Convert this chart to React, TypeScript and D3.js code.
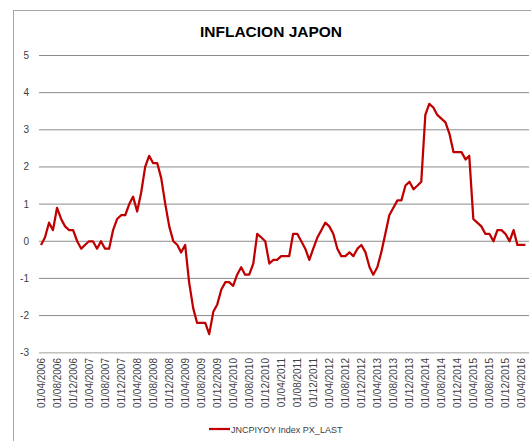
import React from "react";
import * as d3 from "d3";

// monthly CPI YoY, starting April 2006
const firstMonth = new Date(Date.UTC(2006, 3, 1));
const cpiYoY = [
  -0.1, 0.1, 0.5, 0.3, 0.9, 0.6, 0.4, 0.3, 0.3,
  0.0, -0.2, -0.1, 0.0, 0.0, -0.2, 0.0, -0.2, -0.2, 0.3, 0.6, 0.7,
  0.7, 1.0, 1.2, 0.8, 1.3, 2.0, 2.3, 2.1, 2.1, 1.7, 1.0, 0.4,
  0.0, -0.1, -0.3, -0.1, -1.1, -1.8, -2.2, -2.2, -2.2, -2.5, -1.9, -1.7,
  -1.3, -1.1, -1.1, -1.2, -0.9, -0.7, -0.9, -0.9, -0.6, 0.2, 0.1, 0.0,
  -0.6, -0.5, -0.5, -0.4, -0.4, -0.4, 0.2, 0.2, 0.0, -0.2, -0.5, -0.2,
  0.1, 0.3, 0.5, 0.4, 0.2, -0.2, -0.4, -0.4, -0.3, -0.4, -0.2, -0.1,
  -0.3, -0.7, -0.9, -0.7, -0.3, 0.2, 0.7, 0.9, 1.1, 1.1, 1.5, 1.6,
  1.4, 1.5, 1.6, 3.4, 3.7, 3.6, 3.4, 3.3, 3.2, 2.9, 2.4, 2.4,
  2.4, 2.2, 2.3, 0.6, 0.5, 0.4, 0.2, 0.2, 0.0, 0.3, 0.3, 0.2,
  0.0, 0.3, -0.1, -0.1, -0.1,
];
const yTicks = [5, 4, 3, 2, 1, 0, -1, -2, -3];
const title = "INFLACION JAPON";
const seriesName = "JNCPIYOY Index PX_LAST";

const width = 531;
const height = 441;
const font = "'Liberation Sans', Arial, sans-serif";

export default function App() {
  const points = cpiYoY.map((v, i) => ({
    date: d3.utcMonth.offset(firstMonth, i),
    value: v,
  }));
  const lastMonth = d3.utcMonth.offset(firstMonth, cpiYoY.length);

  const x = d3.scaleUtc().domain([firstMonth, lastMonth]).range([41, 529.5]);
  const y = d3.scaleLinear().domain([-3, 5]).range([352.7, 55.5]);

  // a label every 4 months, from April 2006 to April 2016
  const xTicks = d3.utcMonth.range(firstMonth, d3.utcMonth.offset(firstMonth, 121), 4);
  const fmt = d3.utcFormat("%d/%m/%Y");

  const line = d3
    .line<{ date: Date; value: number }>()
    .x((d) => x(d.date))
    .y((d) => y(d.value));

  return (
    <svg
      width={width}
      height={height}
      style={{ position: "absolute", left: 0, top: 0, background: "#fff" }}
      fontFamily={font}
    >
      <rect x={0} y={0} width={width} height={height} fill="#fff" />
      <rect x={13.5} y={10.5} width={600} height={600} fill="none" stroke="#a6a6a6" />
      <text x={271} y={37} textAnchor="middle" fontSize={15.5} fontWeight="bold" fill="#000">
        {title}
      </text>

      {yTicks.map((t) => (
        <g key={t}>
          <line
            x1={39}
            x2={529}
            y1={y(t)}
            y2={y(t)}
            stroke={t === -3 ? "#c0c0c0" : "#8c8c8c"}
            strokeWidth={t === -3 ? 1.5 : 1}
          />
          <text x={29} y={y(t) + 3.5} textAnchor="end" fontSize={10} fill="#404040">
            {t}
          </text>
        </g>
      ))}

      {xTicks.map((d) => (
        <text
          key={+d}
          transform={`translate(${x(d) + 3.5},358) rotate(-90)`}
          textAnchor="end"
          fontSize={10}
          fill="#404040"
        >
          {fmt(d)}
        </text>
      ))}

      <path d={line(points) ?? ""} fill="none" stroke="#c00000" strokeWidth={2.25} strokeLinejoin="round" />

      <line x1={209} x2={230} y1={429} y2={429} stroke="#c00000" strokeWidth={2.25} />
      <text x={231} y={432.5} fontSize={9} fill="#404040">
        {seriesName}
      </text>
    </svg>
  );
}
